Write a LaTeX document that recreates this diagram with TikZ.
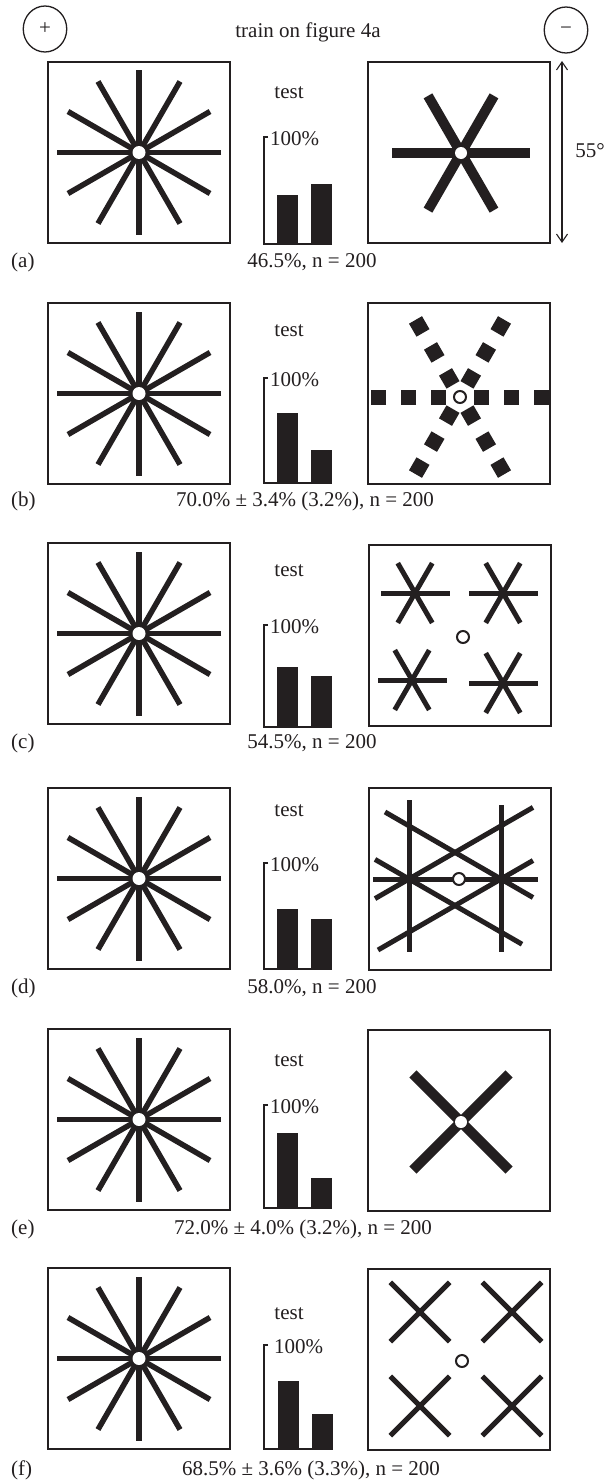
\documentclass[tikz,border=0pt]{standalone}
\usepackage{fontspec}
\setmainfont{Liberation Serif}
\usetikzlibrary{arrows.meta,shapes.geometric}
\definecolor{ink}{HTML}{231F20}
\newcommand\testchart[8]{%
  \node[txt,anchor=base] (test#1) at (289,#6) {test};
  \node[txt,anchor=base west] (pct#1) at (#7,#2+8) {100\%};
  \draw[axisline] (268,#2) -- (264,#2) -- (264,#3) -- (332,#3);
  \fill[ink] (277+#8,#4) rectangle (298+#8,#3+1);
  \fill[ink] (311+#8,#5) rectangle (332+#8,#3+1);
}
\tikzset{
  posstar/.pic={
    \foreach \a in {0,30,...,150}{\draw[ink,line width=5.5pt] (\a:82) -- (\a:-82);}
    \fill[white] (0,0) circle[radius=6.5pt];
  },
  smallstar/.pic={
    \foreach \a in {0,60,120}{\draw[ink,line width=5pt] (\a:34.5) -- (\a:-34.5);}
  },
  smallx/.pic={
    \foreach \a in {45,135}{\draw[ink,line width=5pt] (\a:42) -- (\a:-42);}
  },
}
\begin{document}
\begin{tikzpicture}[x=1pt,y=-1pt,
  txt/.style={inner sep=0pt,font=\fontsize{21}{25}\selectfont,text=ink},
  frame/.style={draw=ink,line width=1.4pt},
  axisline/.style={draw=ink,line width=1.2pt},
  opendot/.style={draw=ink,line width=2pt,fill=white},
  thin ray/.style={draw=ink,line width=5pt},
  fat ray/.style={draw=ink,line width=10pt},
  sign/.style={draw=ink,line width=1.3pt,ellipse,minimum width=43.5pt,minimum height=46pt,inner sep=0pt}]
\fill[white] (0,0) rectangle (612,1480);
\useasboundingbox (0,0) rectangle (612,1480);

% ---------- header ----------
\node[sign] (plus) at (45,29) {};
\node[txt,anchor=base] (plussign) at (45,34.3) {+};
\node[sign] (minus) at (566,30) {};
\node[txt,anchor=base] (minussign) at (566,34.8) {−};
\node[txt,anchor=base] (title) at (308,38) {train on figure 4a};
\coordinate (atop) at (562,61);
\coordinate (abot) at (562,243);
\draw[ink,line width=1.1pt,{Straight Barb[length=8pt,width=11pt]}-{Straight Barb[length=8pt,width=11pt]}] (atop) -- (abot);
\node[txt,anchor=base] (angle) at (590,157) {55°};

% ---------- left boxes with 12-arm stars ----------
\foreach \t in {62,303,543,788,1029,1268}{
  \draw[frame] (48,\t) rectangle (230,\t+181);
  \pic at (139,\t+90.5) {posstar};
}
% ---------- right boxes ----------
\draw[frame] (368,62) rectangle (550,243);
\draw[frame] (368,303) rectangle (550,484);
\draw[frame] (369,545) rectangle (551,726);
\draw[draw=ink,line width=2pt] (369,788) rectangle (551,970);
\draw[frame] (368,1030) rectangle (550,1211);
\draw[frame] (368,1269) rectangle (550,1450);

% (a) 6-arm thick star
\begin{scope}[shift={(461,153)}]
  \draw[fat ray] (-69,0) -- (69,0);
  \draw[fat ray] (60:66) -- (60:-66);
  \draw[fat ray] (120:66) -- (120:-66);
  \fill[white] (0,0) circle[radius=6pt];
\end{scope}

% (b) dashed star
\begin{scope}[shift={(460,397)}]
  \foreach \a in {0,60,...,300}{
    \draw[ink,line width=15pt,dash pattern=on 15pt off 15pt] (\a:14) -- (\a:89);
  }
  \draw[opendot] (0,0) circle[radius=6pt];
\end{scope}

% (c) four small stars
\pic at (415,593) {smallstar};
\pic at (503,593) {smallstar};
\pic at (412,680) {smallstar};
\pic at (503,683) {smallstar};
\draw[opendot] (463,637) circle[radius=6pt];

% (d) crossing lines
\draw[thin ray] (409,800) -- (409,952);
\draw[thin ray] (501,805) -- (501,952);
\draw[thin ray] (373,879) -- (538,879);
\draw[thin ray] (385,812) -- (533,897.5);
\draw[thin ray] (375,898.6) -- (533,807.4);
\draw[thin ray] (375,859.4) -- (522,944.2);
\draw[thin ray] (378,950) -- (533,860.5);
\draw[opendot] (459,879) circle[radius=6pt];

% (e) thick X
\begin{scope}[shift={(461,1122)}]
  \draw[fat ray] (45:68) -- (45:-68);
  \draw[fat ray] (135:68) -- (135:-68);
  \fill[white] (0,0) circle[radius=6pt];
\end{scope}

% (f) four small X
\pic at (420,1312) {smallx};
\pic at (512,1312) {smallx};
\pic at (420,1406) {smallx};
\pic at (512,1406) {smallx};
\draw[opendot] (462,1361) circle[radius=6pt];

% ---------- bar charts ----------
\testchart{a}{137}{244}{195}{184}{98}{270}{0}
\testchart{b}{378}{483}{413}{450}{336}{270}{0}
\testchart{c}{625}{727}{667}{676}{576}{270}{0}
\testchart{d}{863}{969}{909}{919}{816}{270}{0}
\testchart{e}{1105}{1208}{1133}{1178}{1066}{270}{0}
\testchart{f}{1345}{1449}{1381}{1414}{1319}{274}{1}

% ---------- captions ----------
\node[txt,anchor=base west] (la) at (11,267) {(a)};
\node[txt,anchor=base] (ca) at (312,267) {46.5\%, n = 200};
\node[txt,anchor=base west] (lb) at (11,506) {(b)};
\node[txt,anchor=base] (cb) at (305,506) {70.0\% ± 3.4\% (3.2\%), n = 200};
\node[txt,anchor=base west] (lc) at (11,748) {(c)};
\node[txt,anchor=base] (cc) at (312,748) {54.5\%, n = 200};
\node[txt,anchor=base west] (ld) at (11,993) {(d)};
\node[txt,anchor=base] (cd) at (312,993) {58.0\%, n = 200};
\node[txt,anchor=base west] (le) at (11,1234) {(e)};
\node[txt,anchor=base] (ce) at (303,1234) {72.0\% ± 4.0\% (3.2\%), n = 200};
\node[txt,anchor=base west] (lf) at (11,1475) {(f)};
\node[txt,anchor=base] (cf) at (311,1475) {68.5\% ± 3.6\% (3.3\%), n = 200};
\end{tikzpicture}
\end{document}
